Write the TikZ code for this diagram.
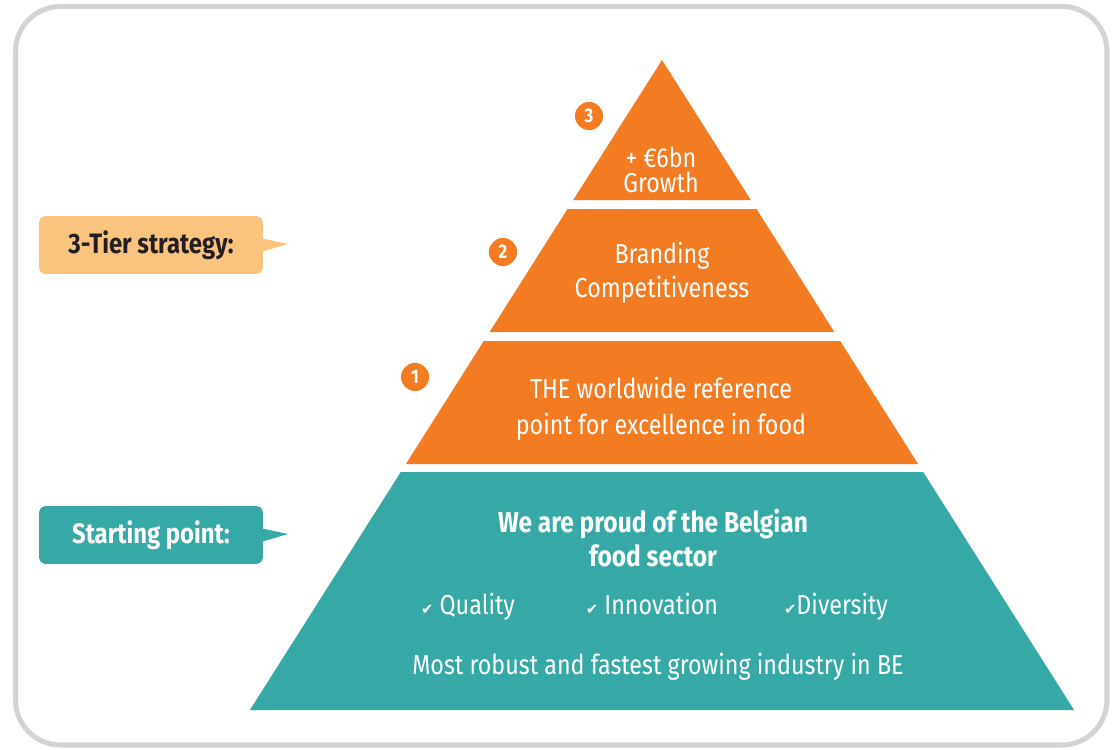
\documentclass[tikz,border=0pt]{standalone}
\usepackage{fontspec}
\setmainfont{Fira Sans}[FakeStretch=0.85]
\newfontfamily\symbfont{DejaVu Sans}
\usetikzlibrary{positioning}
\definecolor{tierorange}{HTML}{F37B21}
\definecolor{baseteal}{HTML}{36A9A7}
\definecolor{peach}{HTML}{FBC47E}
\definecolor{framegray}{HTML}{D3D3D3}
\definecolor{darkink}{HTML}{231F20}
\newcommand{\checkit}{{\symbfont\fontsize{10.5}{10.5}\selectfont ✔}}

\begin{document}
\begin{tikzpicture}[x=0.025cm,y=-0.025cm]
\tikzset{
  tiertext/.style={text=white,align=center,font=\fontsize{19.5}{25.6}\selectfont},
  numdot/.style={circle,fill=tierorange,text=white,inner sep=0pt,minimum size=20pt,font=\bfseries\fontsize{14}{14}\selectfont},
  calloutbox/.style={rounded corners=4pt,minimum width=159pt,minimum height=41pt,font=\bfseries\fontsize{20}{20}\selectfont}
}
%\draw[help lines] (0,0) grid (1113,750);
\useasboundingbox (0,0) rectangle (1113,750);

\draw[framegray,line width=3.6pt,rounded corners=32pt] (15.5,6.5) rectangle (1107,745);

% pyramid
\fill[tierorange] (662,60) -- (750.8,200) -- (573.2,200) -- cycle;
\fill[tierorange] (567.5,209) -- (756.5,209) -- (834.4,332) -- (489.6,332) -- cycle;
\fill[tierorange] (483.8,341) -- (840.2,341) -- (918.1,464) -- (405.9,464) -- cycle;
\fill[baseteal] (400.8,472) -- (923.2,472) -- (1074.1,710) -- (249.9,710) -- cycle;

\node[tiertext,font=\fontsize{19.5}{17.8}\selectfont] (growth) at (661,170) {+ €6bn\\Growth};
\node[tiertext,font=\fontsize{19.5}{24}\selectfont] (branding) at (662,273) {Branding\\Competitiveness};
\node[tiertext] (reference) at (661,409) {THE worldwide reference\\point for excellence in food};
\node[tiertext,font=\bfseries\fontsize{20.5}{24}\selectfont] (proud) at (653,538) {We are proud of the Belgian\\food sector};
\node[tiertext,anchor=base] (quality) at (468,614) {\checkit\ Quality};
\node[tiertext,anchor=base] (innovation) at (652,614) {\checkit\ Innovation};
\node[tiertext,anchor=base] (diversity) at (836,614) {\checkit Diversity};
\node[tiertext] (robust) at (658,667) {Most robust and fastest growing industry in BE};

\node[numdot] (three) at (589,116) {3};
\node[numdot] (two) at (503,252) {2};
\node[numdot] (one) at (415,377) {1};

% callouts
\node[calloutbox,fill=peach,text=darkink] (tier) at (151,245) {3-Tier strategy:};
\coordinate (tiertip) at (288,244);
\fill[peach] ([yshift=4.5pt]tier.east) -- (tiertip) -- ([yshift=-4.5pt]tier.east) -- cycle;

\node[calloutbox,fill=baseteal,text=white] (start) at (151,535) {Starting point:};
\coordinate (starttip) at (288,534);
\fill[baseteal] ([yshift=4.5pt]start.east) -- (starttip) -- ([yshift=-4.5pt]start.east) -- cycle;
\end{tikzpicture}
\end{document}
